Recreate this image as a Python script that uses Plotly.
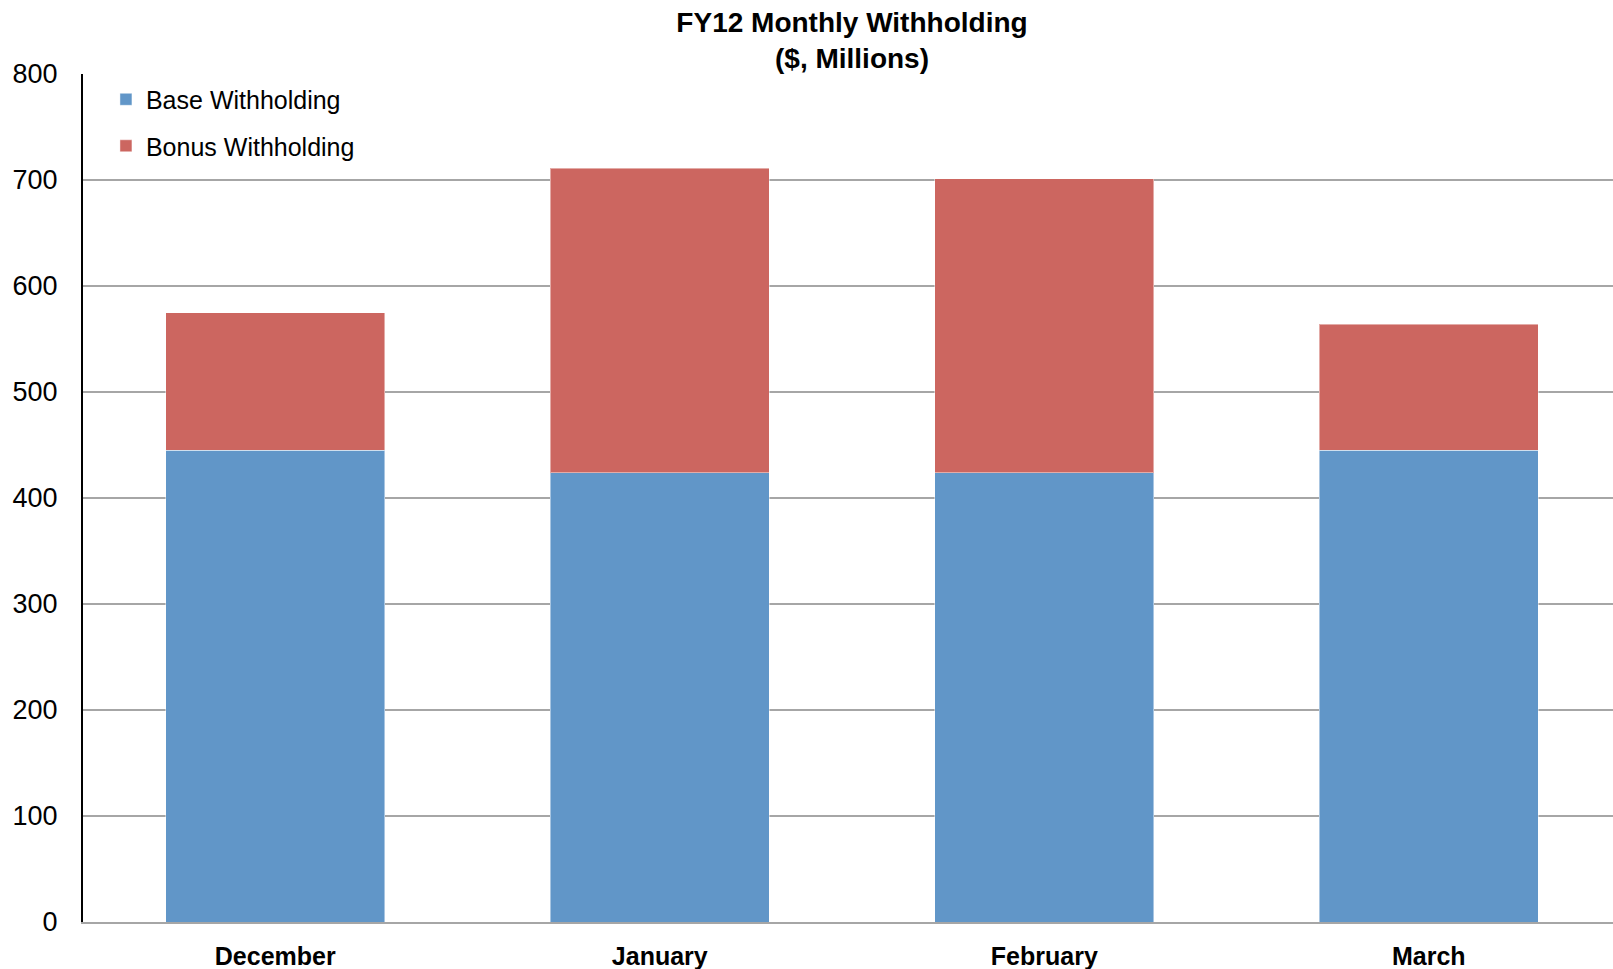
import plotly.graph_objects as go

# FY12 monthly withholding, $ millions
months = ["December", "January", "February", "March"]
base_withholding = [445, 424, 424, 445]
bonus_withholding = [130, 287, 277, 119]

BLUE = "#6196C8"
RED = "#CC6660"
GRID = "#A6A6A6"
FONT = "Liberation Sans, Arial, sans-serif"

fig = go.Figure()
fig.add_trace(go.Bar(
    x=months, y=base_withholding, name="Base Withholding",
    marker=dict(color=BLUE, line=dict(color="rgba(255,255,255,0.45)", width=1)),
    legendgroup="base",
))
fig.add_trace(go.Bar(
    x=months, y=bonus_withholding, name="Bonus Withholding",
    marker=dict(color=RED, line=dict(color="rgba(255,255,255,0.45)", width=1)),
    legendgroup="bonus",
))

fig.update_layout(
    width=1613, height=969,
    margin=dict(l=83, r=0, t=74, b=47),
    paper_bgcolor="white", plot_bgcolor="white",
    barmode="stack", bargap=0.43,
    title=dict(
        text="<b>FY12 Monthly Withholding<br>($, Millions)</b>",
        font=dict(family=FONT, size=28, color="black"),
        x=852 / 1613, xref="container", xanchor="center",
        y=1, yref="container", yanchor="top", pad=dict(t=32),
    ),
    legend=dict(
        x=0.015, y=0.997, xanchor="left", yanchor="top",
        bgcolor="rgba(0,0,0,0)",
        font=dict(family=FONT, size=25, color="black"),
        traceorder="grouped", tracegroupgap=11,
        itemwidth=30,
    ),
    xaxis=dict(
        type="category", range=[-0.5, 3.479],
        showline=True, linecolor=GRID, linewidth=2,
        showgrid=False, ticks="",
        tickfont=dict(family=FONT, size=25, color="black", weight="bold"),
        ticklabelstandoff=11,
    ),
    yaxis=dict(
        range=[0, 800], dtick=100, tick0=0,
        showline=True, linecolor="black", linewidth=2,
        showgrid=True, gridcolor=GRID, gridwidth=2,
        zeroline=False, ticks="",
        tickfont=dict(family=FONT, size=27, color="black"),
        ticklabelstandoff=18,
    ),
)

fig.write_html("out.html")
